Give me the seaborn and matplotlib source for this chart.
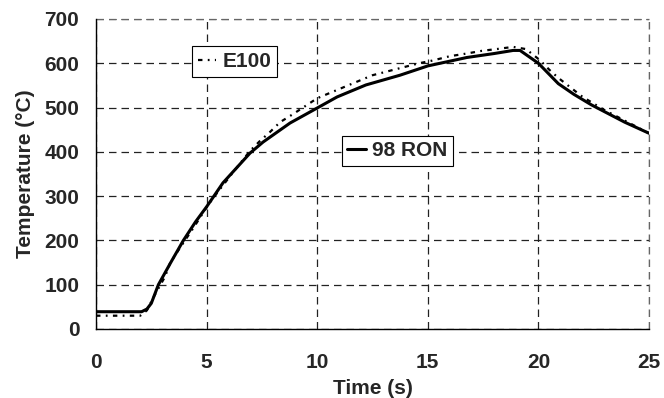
import numpy as np
import pandas as pd
import matplotlib
matplotlib.use("Agg")
import matplotlib.pyplot as plt
import seaborn as sns
from matplotlib.lines import Line2D

# Data
t_ron = [0, 1, 2.06, 2.3, 2.5, 2.82, 3.4, 3.95, 4.5, 5.0, 5.33, 5.74, 6.96, 7.55, 8.77, 10.0,
         10.9, 12.2, 13.74, 15.0, 16.76, 18.0, 18.86, 19.17, 20.0, 20.9, 21.6, 22.4, 23.9, 25.0]
v_ron = [39, 39, 39, 45, 58, 100, 152, 200, 242, 276, 300, 330, 397, 422, 465, 499,
         524, 551, 573, 594, 613, 622, 629, 629, 600, 554, 530, 506, 467, 442]

t_e100 = [0, 1, 2.0, 2.3, 2.6, 3.12, 3.35, 3.7, 4.4, 5.07, 5.47, 6.2, 6.96, 7.4, 7.87, 8.32,
          8.9, 9.45, 10.0, 10.67, 12.5, 14.6, 15.2, 16.0, 16.76, 17.43, 18.1, 18.86, 19.44,
          20.07, 20.5, 20.9, 22.0, 23.0, 24.0, 25.0]
v_e100 = [30, 30, 30, 42, 72, 118, 149, 176, 228, 280, 307, 354, 402, 424, 445, 467,
          485, 503, 521, 535, 573, 600, 606, 616, 622, 628, 632, 637, 632,
          607, 585, 567, 524, 494, 468, 442]

x_ticks = [0, 5, 10, 15, 20, 25]
y_ticks = [0, 100, 200, 300, 400, 500, 600, 700]

df = pd.concat([
    pd.DataFrame({"Time": t_e100, "Temp": v_e100, "Fuel": "E100"}),
    pd.DataFrame({"Time": t_ron, "Temp": v_ron, "Fuel": "98 RON"}),
])

sns.set_style("white")
plt.rcParams['font.family'] = ['Liberation Sans', 'DejaVu Sans']
plt.rcParams['font.weight'] = 'bold'

FS = 15
E_DASH = (2.0, 2.4, 0.8, 2.4)

fig = plt.figure(figsize=(6.64, 3.98), dpi=100)
ax = fig.add_axes([0.1446, 0.1734, 0.8328, 0.7789])

sns.lineplot(data=df, x="Time", y="Temp", hue="Fuel", style="Fuel",
             palette={"E100": "black", "98 RON": "black"},
             dashes={"E100": E_DASH, "98 RON": ""},
             size="Fuel", sizes={"E100": 1.6, "98 RON": 2.2},
             ax=ax, legend=False, sort=False, estimator=None)

ax.set_xlim(0, 25)
ax.set_ylim(0, 700)
ax.set_xticks(x_ticks)
ax.set_yticks(y_ticks)
ax.tick_params(axis='both', labelsize=FS, length=5, width=1, color='black',
               direction='out')
ax.tick_params(axis='x', pad=12)
ax.tick_params(axis='y', pad=7)
for lab in ax.get_xticklabels() + ax.get_yticklabels():
    lab.set_fontweight('bold')

ax.grid(True, color='#222222', linestyle=(0, (6, 4)), linewidth=0.9)
for s in ['top', 'right']:
    ax.spines[s].set_visible(False)
for s in ['left', 'bottom']:
    ax.spines[s].set_color('black')
    ax.spines[s].set_linewidth(1.0)
# dashed top/right borders
ax.axhline(700, color='#666666', linestyle=(0, (6, 4)), linewidth=0.9, clip_on=False)
ax.axvline(25, color='#666666', linestyle=(0, (6, 4)), linewidth=0.9, clip_on=False)

ax.set_xlabel("Time (s)", fontsize=FS, fontweight='bold', labelpad=5)
ax.set_ylabel("Temperature (°C)", fontsize=FS, fontweight='bold', labelpad=7)

h1 = Line2D([], [], color='black', lw=1.6, linestyle=(0, E_DASH))
h2 = Line2D([], [], color='black', lw=2.2)
common = dict(loc='upper left', frameon=True, fancybox=False, framealpha=1,
              edgecolor='black', prop={'weight': 'bold', 'size': FS},
              handlelength=0.9, handletextpad=0.3, borderpad=0.28, borderaxespad=0)
leg1 = ax.legend([h1], ["E100"], bbox_to_anchor=(0.173, 0.912), **common)
leg1.get_frame().set_linewidth(0.8)
ax.add_artist(leg1)
leg2 = ax.legend([h2], ["98 RON"], bbox_to_anchor=(0.444, 0.624), **common)
leg2.get_frame().set_linewidth(0.8)

fig.savefig("out.png", dpi=100)
